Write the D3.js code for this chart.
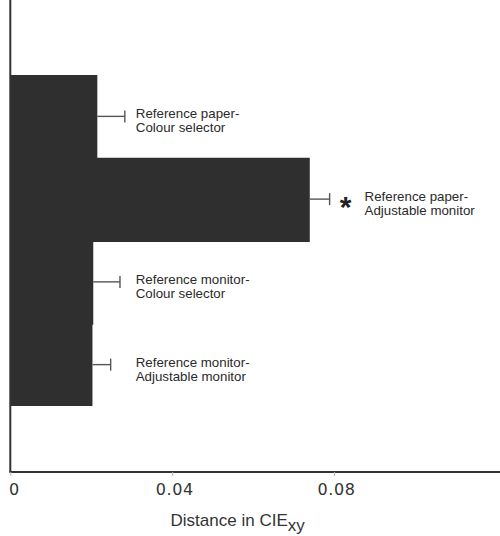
<!DOCTYPE html>
<html>
<head>
<meta charset="utf-8">
<script src="https://cdn.jsdelivr.net/npm/d3@7"></script>
<style>
  body { margin: 0; background: #fff; }
  svg { display: block; }
</style>
</head>
<body>
<div id="container"></div>
<script>
//------------------------DATA------------------------//
const labelTop = ['Reference paper-', 'Reference paper-', 'Reference monitor-', 'Reference monitor-'];
const labelBottom = ['Colour selector', 'Adjustable monitor', 'Colour selector', 'Adjustable monitor'];
const meanDistance = [0.0215, 0.0740, 0.0205, 0.0203];
const errorSize = [0.0068, 0.0049, 0.0066, 0.0045];
const significant = [false, true, false, false];
const xTicks = [0, 0.04, 0.08];
const xTitle = 'Distance in CIE';
const xTitleSub = 'xy';

//------------------------SVG PREPARATION------------------------//
const width = 500;
const height = 536;
const axisY = 472;

const svg = d3.select('div#container').append('svg')
  .attr('width', width)
  .attr('height', height);

const rows = meanDistance.map((m, i) => ({
  id: i, mean: m, err: errorSize[i], star: significant[i],
  top: labelTop[i], bottom: labelBottom[i]
}));

// scales
const x = d3.scaleLinear().domain([0, 0.121]).range([10.3, 500]);
const y = d3.scaleBand().domain(rows.map(d => d.id)).range([75, 406]).padding(0);

//------------------------BARS------------------------//
// bars touch each other, so overlap them a little to hide seams
svg.selectAll('rect.bar')
  .data(rows)
  .enter()
  .append('rect')
  .attr('class', 'bar')
  .attr('x', x(0))
  .attr('y', d => y(d.id))
  .attr('width', d => x(d.mean) - x(0))
  .attr('height', (d, i) => y.bandwidth() + (i < rows.length - 1 ? 1.5 : 0))
  .attr('fill', '#2f2f2f');

// error bars (one-sided)
const err = svg.selectAll('g.err')
  .data(rows)
  .enter()
  .append('g')
  .attr('class', 'err')
  .attr('stroke', '#555')
  .attr('stroke-width', 1.4);

err.append('line')
  .attr('x1', d => x(d.mean))
  .attr('x2', d => x(d.mean + d.err))
  .attr('y1', d => y(d.id) + y.bandwidth() / 2)
  .attr('y2', d => y(d.id) + y.bandwidth() / 2);

err.append('line')
  .attr('x1', d => x(d.mean + d.err))
  .attr('x2', d => x(d.mean + d.err))
  .attr('y1', d => y(d.id) + y.bandwidth() / 2 - 6)
  .attr('y2', d => y(d.id) + y.bandwidth() / 2 + 6);

// significance star
svg.selectAll('text.star')
  .data(rows.filter(d => d.star))
  .enter()
  .append('text')
  .attr('class', 'star')
  .attr('x', d => x(d.mean + d.err) + 16)
  .attr('y', d => y(d.id) + y.bandwidth() / 2 + 17.5)
  .attr('text-anchor', 'middle')
  .style('font-family', 'Liberation Sans, Arial, sans-serif')
  .style('font-size', '30px')
  .style('font-weight', 'bold')
  .attr('fill', '#222')
  .text('*');

// labels
const labelX = d => d.star ? x(d.mean + d.err) + 35 : Math.max(x(0.031), x(d.mean + d.err) + 11);
const lab = svg.selectAll('text.label')
  .data(rows)
  .enter()
  .append('text')
  .attr('class', 'label')
  .style('font-family', 'Liberation Sans, Arial, sans-serif')
  .style('font-size', '13.3px')
  .attr('fill', '#2a2a2a');

lab.append('tspan')
  .attr('x', labelX)
  .attr('y', d => y(d.id) + y.bandwidth() / 2 + 2)
  .text(d => d.top);

lab.append('tspan')
  .attr('x', labelX)
  .attr('y', d => y(d.id) + y.bandwidth() / 2 + 16)
  .text(d => d.bottom);

//------------------------AXES------------------------//
// vertical frame line
svg.append('line')
  .attr('x1', x(0)).attr('x2', x(0))
  .attr('y1', 0).attr('y2', axisY)
  .attr('stroke', '#333')
  .attr('stroke-width', 2);

const xAxis = svg.append('g')
  .attr('transform', `translate(0,${axisY})`)
  .call(d3.axisBottom(x)
    .tickValues(xTicks)
    .tickFormat(d => d === 0 ? '0' : d.toFixed(2))
    .tickSize(4)
    .tickSizeOuter(0));

xAxis.select('.domain')
  .attr('stroke', '#333')
  .attr('stroke-width', 2)
  .attr('d', `M${x(0) - 1},0H${width}`);

xAxis.selectAll('.tick line')
  .attr('stroke', '#bbb');

xAxis.selectAll('.tick text')
  .attr('y', 23)
  .attr('dy', 0)
  .attr('dx', d => d === 0 ? 3.5 : 2)
  .attr('fill', '#333')
  .style('font-family', 'DejaVu Sans, sans-serif')
  .style('font-size', '16px')
  .style('letter-spacing', '0.6px');

// axis title with subscript
const title = svg.append('text')
  .attr('x', x(0.0396))
  .attr('y', 526)
  .attr('fill', '#333')
  .style('font-family', 'Liberation Sans, Arial, sans-serif')
  .style('font-size', '17px')
  .text(xTitle);

title.append('tspan')
  .attr('dy', 5)
  .text(xTitleSub);
</script>
</body>
</html>
